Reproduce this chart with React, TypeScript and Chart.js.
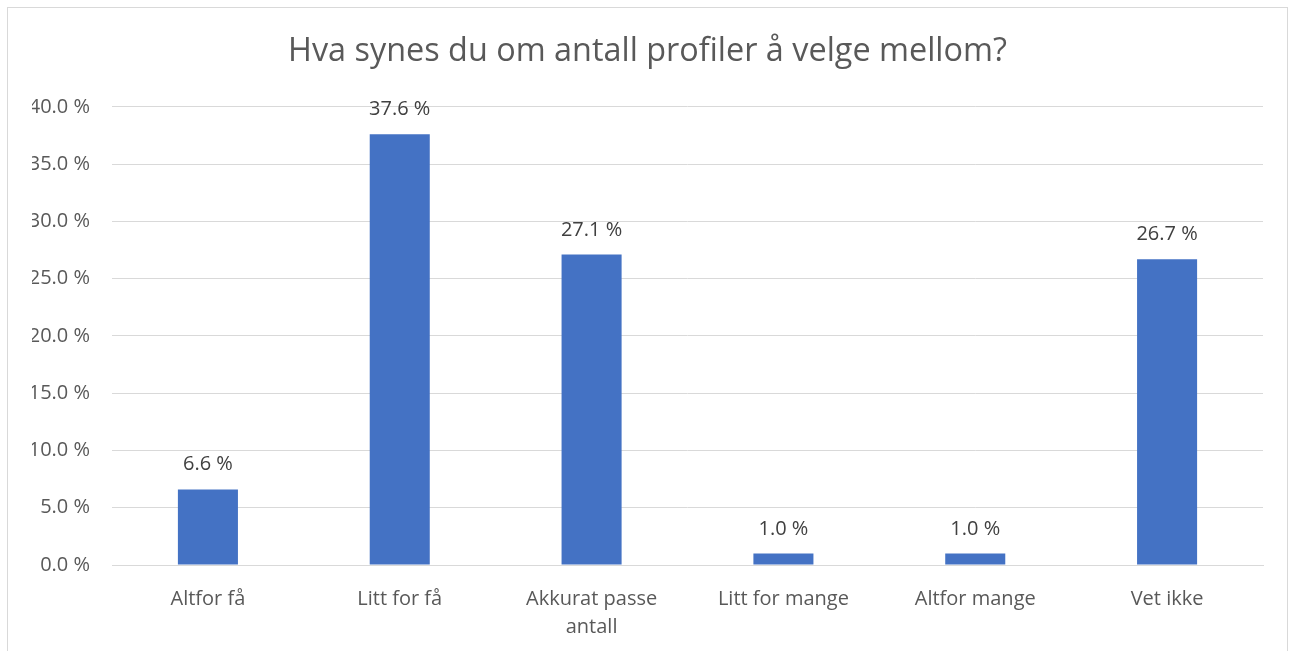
import React, { useEffect, useRef } from "react";
import { Chart, registerables } from "chart.js";

Chart.register(...registerables);

const categories: (string | string[])[] = [
  "Altfor få",
  "Litt for få",
  ["Akkurat passe", "antall"],
  "Litt for mange",
  "Altfor mange",
  "Vet ikke",
];
const values: number[] = [6.6, 37.6, 27.1, 1.0, 1.0, 26.7];
const yMin = 0;
const yMax = 40;
const yStep = 5;
const titleText = "Hva synes du om antall profiler å velge mellom?";

const FONT = "'Open Sans', sans-serif";

const dataLabelPlugin = {
  id: "dataLabels",
  afterDatasetsDraw(chart: any) {
    const ctx = chart.ctx;
    const meta = chart.getDatasetMeta(0);
    ctx.save();
    ctx.font = `20px ${FONT}`;
    ctx.fillStyle = "#404040";
    ctx.textAlign = "center";
    ctx.textBaseline = "alphabetic";
    meta.data.forEach((bar: any, i: number) => {
      const v = values[i];
      ctx.fillText(v.toFixed(1) + " %", bar.x, bar.y - 19);
    });
    ctx.restore();
  },
};

export default function App() {
  const canvasRef = useRef<HTMLCanvasElement | null>(null);

  useEffect(() => {
    if (!canvasRef.current) return;
    const chart = new Chart(canvasRef.current, {
      type: "bar",
      data: {
        labels: categories,
        datasets: [
          {
            data: values,
            backgroundColor: "#4472C4",
            borderWidth: 0,
            categoryPercentage: 1,
            barPercentage: 0.313,
          },
        ],
      },
      options: {
        animation: false,
        responsive: true,
        maintainAspectRatio: false,
        layout: { padding: { left: 32, right: 32, top: 0, bottom: 0 } },
        plugins: {
          legend: { display: false },
          tooltip: { enabled: false },
          title: {
            display: true,
            text: titleText,
            color: "#595959",
            font: { family: FONT, size: 32.4, weight: "normal" },
            padding: { top: 32, bottom: 36 },
          },
        },
        scales: {
          x: {
            grid: { display: false },
            border: { display: true, color: "#d9d9d9", width: 1 },
            ticks: {
              color: "#595959",
              font: { family: FONT, size: 20, lineHeight: 1.4 },
              padding: 12,
              maxRotation: 0,
              autoSkip: false,
            },
            afterFit: (scale: any) => {
              scale.height = 86;
            },
          },
          y: {
            min: yMin,
            max: yMax,
            border: { display: false },
            grid: { color: "#d9d9d9", lineWidth: 1, drawTicks: false },
            ticks: {
              stepSize: yStep,
              color: "#595959",
              font: { family: FONT, size: 20 },
              padding: 22,
              callback: (v: any) => Number(v).toFixed(1) + " %",
            },
            afterFit: (scale: any) => {
              scale.width = 80;
            },
          },
        },
      },
      plugins: [dataLabelPlugin],
    });
    return () => chart.destroy();
  }, []);

  return (
    <div style={{ position: "absolute", left: 0, top: 0, width: 1295, height: 651, background: "#fff", overflow: "hidden" }}>
      <div
        style={{
          position: "absolute",
          left: 7,
          top: 7,
          width: 1281,
          height: 700,
          border: "1px solid #d9d9d9",
          boxSizing: "border-box",
        }}
      />
      <div style={{ position: "absolute", left: 0, top: 0, width: 1295, height: 651 }}>
        <canvas ref={canvasRef} />
      </div>
    </div>
  );
}
